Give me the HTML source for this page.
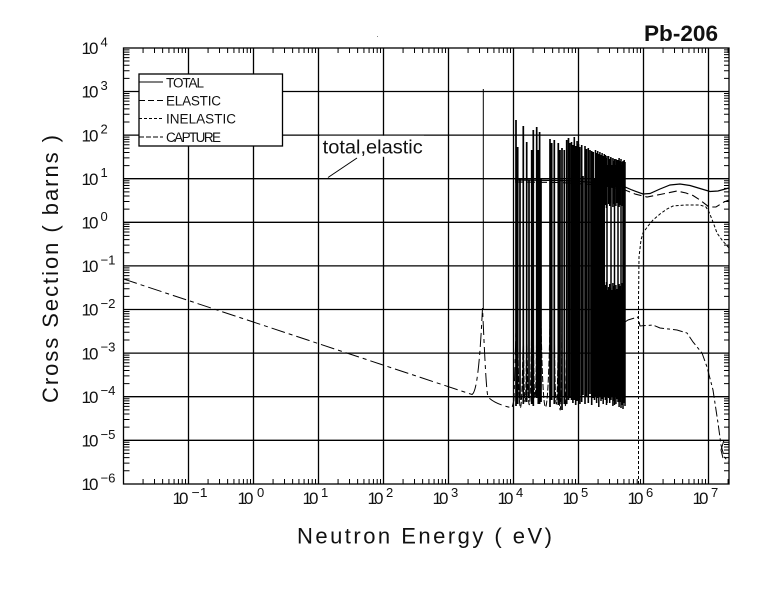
<!DOCTYPE html>
<html><head><meta charset="utf-8"><style>
html,body{margin:0;padding:0;background:#fff;}
svg{display:block;}
text{font-family:"Liberation Sans",sans-serif;fill:#111;}
</style></head><body>
<svg width="780" height="591" viewBox="0 0 780 591" xmlns="http://www.w3.org/2000/svg" xmlns:xlink="http://www.w3.org/1999/xlink">
<defs>
<clipPath id="pc"><rect x="123.5" y="48" width="605.5" height="436"/></clipPath>
<path id="xb" d="M19.57 0V-5M31.01 0V-5M39.13 0V-5M45.43 0V-5M50.58 0V-5M54.93 0V-5M58.70 0V-5M62.03 0V-5" stroke="#000" stroke-width="1" fill="none"/>
<path id="xt" d="M19.57 0V5M31.01 0V5M39.13 0V5M45.43 0V5M50.58 0V5M54.93 0V5M58.70 0V5M62.03 0V5" stroke="#000" stroke-width="1" fill="none"/>
<path id="yl" d="M0 -13.12H6M0 -20.80H6M0 -26.25H6M0 -30.48H6M0 -33.93H6M0 -36.85H6M0 -39.37H6M0 -41.60H6" stroke="#000" stroke-width="1" fill="none"/>
<path id="yr" d="M0 -13.12H-5M0 -20.80H-5M0 -26.25H-5M0 -30.48H-5M0 -33.93H-5M0 -36.85H-5M0 -39.37H-5M0 -41.60H-5" stroke="#000" stroke-width="1" fill="none"/>
</defs>
<rect width="780" height="591" fill="#fff"/>
<rect x="377" y="36" width="1" height="1" fill="#888"/>

<!-- grid -->
<g stroke="#000" stroke-width="1.3" fill="none">
<path d="M188.5 48V484M253.5 48V484M318.5 48V484M383.5 48V484M448.5 48V484M513.5 48V484M578.5 48V484M643.5 48V484M708.5 48V484"/>
<path d="M123.5 91.5H729M123.5 135.1H729M123.5 178.7H729M123.5 222.3H729M123.5 265.9H729M123.5 309.5H729M123.5 353.1H729M123.5 396.7H729M123.5 440.3H729"/>
<rect x="123.5" y="48" width="605.5" height="436"/>
</g>

<!-- minor ticks -->
<g clip-path="url(#pc)">
<use xlink:href="#xb" x="123.5" y="484"/><use xlink:href="#xb" x="188.5" y="484"/><use xlink:href="#xb" x="253.5" y="484"/><use xlink:href="#xb" x="318.5" y="484"/><use xlink:href="#xb" x="383.5" y="484"/><use xlink:href="#xb" x="448.5" y="484"/><use xlink:href="#xb" x="513.5" y="484"/><use xlink:href="#xb" x="578.5" y="484"/><use xlink:href="#xb" x="643.5" y="484"/><use xlink:href="#xb" x="708.5" y="484"/>
<use xlink:href="#xt" x="123.5" y="48"/><use xlink:href="#xt" x="188.5" y="48"/><use xlink:href="#xt" x="253.5" y="48"/><use xlink:href="#xt" x="318.5" y="48"/><use xlink:href="#xt" x="383.5" y="48"/><use xlink:href="#xt" x="448.5" y="48"/><use xlink:href="#xt" x="513.5" y="48"/><use xlink:href="#xt" x="578.5" y="48"/><use xlink:href="#xt" x="643.5" y="48"/><use xlink:href="#xt" x="708.5" y="48"/>
<use xlink:href="#yl" x="123.5" y="483.9"/><use xlink:href="#yl" x="123.5" y="440.3"/><use xlink:href="#yl" x="123.5" y="396.7"/><use xlink:href="#yl" x="123.5" y="353.1"/><use xlink:href="#yl" x="123.5" y="309.5"/><use xlink:href="#yl" x="123.5" y="265.9"/><use xlink:href="#yl" x="123.5" y="222.3"/><use xlink:href="#yl" x="123.5" y="178.7"/><use xlink:href="#yl" x="123.5" y="135.1"/><use xlink:href="#yl" x="123.5" y="91.5"/>
<use xlink:href="#yr" x="729" y="483.9"/><use xlink:href="#yr" x="729" y="440.3"/><use xlink:href="#yr" x="729" y="396.7"/><use xlink:href="#yr" x="729" y="353.1"/><use xlink:href="#yr" x="729" y="309.5"/><use xlink:href="#yr" x="729" y="265.9"/><use xlink:href="#yr" x="729" y="222.3"/><use xlink:href="#yr" x="729" y="178.7"/><use xlink:href="#yr" x="729" y="135.1"/><use xlink:href="#yr" x="729" y="91.5"/>
</g>

<!-- curves -->
<g clip-path="url(#pc)" fill="none" stroke="#000">
<!-- capture low energy -->
<path d="M123.5 279L472 394.5C477 392 480 360 482.5 308C484 340 486 390 488 397C495 404 505 406 512 408L514 400L516 330" stroke-width="1" stroke-dasharray="14,4,4,4"/>
<!-- 3.36 keV spike -->
<path d="M483.3 89V310" stroke-width="1"/>
<!-- sparse resonances -->
<path stroke-width="1.7" d="M516 120V406M517.7 147V404M520 178V400M523.3 126V404M526.7 142V402M529 180V398M531.7 150V404M533.3 130V406M536.7 127V398M538.3 150V404M539.6 132V404M541 178V402M550 139V407M551.7 143V400M554.3 140V404M558.3 143V405M560 150V402M562 148V410M564.3 150V404M566.7 140V404M568.5 138V400M570 143V398"/>
<!-- dense resonances 571-595 -->
<path stroke-width="1.6" d="M571.5 142V400M572.9 145V403M574.3 137V398M575.7 146V405M577.1 141V401M578.5 144V399M579.9 147V404M581.7 145V402M583 176V395M585 146V404M586.5 149V396M588.3 148V403M590 150V394M591.7 151V405M593.3 152V398M594.5 178V400"/>
<rect x="571" y="265" width="9.5" height="135" fill="#000" stroke="none"/>
<!-- dense resonances 595-625 -->
<path stroke-width="1.5" d="M595.5 150V396M596.6 153V403M597.7 151V398M598.8 154V407M599.9 152V395M601 155V401M602.1 153V399M603.2 156V404M604.3 154V397M607 156V403M611 158V400M614.5 159V405M618 160V402M621 159V408M623 161V409M624.2 160V403M625 162V406"/>
<path stroke-width="1.5" d="M605.4 155V205M606.5 158V208M608.6 156V204M609.7 159V206M610.8 157V203M612.9 158V207M614 161V204M615.9 159V206M617 160V203M619.1 158V207M620.2 161V205M622.3 162V206M605.4 285V400M606.5 282V405M608.6 287V398M609.7 284V403M610.8 288V399M612.9 283V406M614 286V401M615.9 285V404M617 289V399M619.1 284V407M620.2 286V402M622.3 283V405"/>
<rect x="595" y="290" width="30" height="106" fill="#000" stroke="none"/>
<rect x="595" y="165" width="30" height="22" fill="#000" stroke="none"/>
<!-- capture valleys -->
<path stroke-width="1" stroke-dasharray="6,2" d="M517.7 320C518.7 437 522.1 437 523.3 320M523.3 320C524.1 429 526 429 526.7 320M526.7 320C528 433 530.5 433 531.7 320M533.3 320C534 424 536 424 536.7 320M541 320C543 436 548 436 550 320M554.3 320C555.1 432 557.5 432 558.3 320M558.3 320C559 440 561.3 440 562 320M564.3 320C565 435 566 435 566.7 320"/>
<!-- total -->
<path stroke-width="1.2" d="M515 180L560 180.5L575 181L600 183L625 187L632 190L643 194L650 193.5L660 189L670 185L680 184L690 185.5L700 188.5L710 191.5L718 191L729 188"/>
<!-- elastic -->
<path stroke-width="1.1" stroke-dasharray="8,4" d="M515 182L560 182.5L600 185L625 190L635 194L647 197L660 194.5L677 191L686 193L693 195.5L700 200L709 207L716 207L724 202L729 200"/>
<!-- inelastic -->
<path stroke-width="1" stroke-dasharray="3,2" d="M638.5 484L638.5 300L639 257L641 240L643 233L648 226L653 220L660 214L667 209L673 206L685 205L700 205L706 207L709 212L713 222L717 233L722 240L729 248"/>
<!-- capture high energy -->
<path stroke-width="1" stroke-dasharray="10,3,3,3" d="M625 322L628 320L638 317L640 326L653 325L660 328L677 330L687 333L693 342L702 353L707 367L713 390L718 423L721 445L724 456L728 462"/>
<path stroke-width="1" d="M724 440L721 450L723 458"/>
</g>

<!-- legend -->
<rect x="139" y="74" width="143.5" height="72" fill="#fff" stroke="#000" stroke-width="1.3"/>
<g stroke="#000" stroke-width="1.1" fill="none">
<path d="M139 82H163"/>
<path d="M139 100.5H163" stroke-dasharray="6,3"/>
<path d="M139 118.5H163" stroke-dasharray="3,2"/>
<path d="M139 137H163" stroke-dasharray="5,2"/>
</g>
<g font-size="13.5">
<text x="166" y="87.3" textLength="38" lengthAdjust="spacing">TOTAL</text>
<text x="166" y="105.6" textLength="55" lengthAdjust="spacing">ELASTIC</text>
<text x="166" y="123.6" textLength="70" lengthAdjust="spacing">INELASTIC</text>
<text x="166" y="142" textLength="55" lengthAdjust="spacing">CAPTURE</text>
</g>

<!-- annotation -->
<rect x="320" y="135.8" width="104" height="21" fill="#fff"/>
<text x="322.7" y="153.3" font-size="19" textLength="100" lengthAdjust="spacingAndGlyphs">total,elastic</text>
<path d="M328 177.5L357 158" stroke="#000" stroke-width="1" fill="none"/>

<!-- title -->
<text x="644" y="41" font-size="22" font-weight="bold" textLength="74" lengthAdjust="spacingAndGlyphs">Pb-206</text>

<!-- y tick labels -->
<g font-size="17">
<text x="81.5" y="54.2" textLength="17" lengthAdjust="spacing">10</text>
<text x="81.5" y="97.7" textLength="17" lengthAdjust="spacing">10</text>
<text x="81.5" y="141.3" textLength="17" lengthAdjust="spacing">10</text>
<text x="81.5" y="184.9" textLength="17" lengthAdjust="spacing">10</text>
<text x="81.5" y="228.5" textLength="17" lengthAdjust="spacing">10</text>
<text x="81.5" y="272.1" textLength="17" lengthAdjust="spacing">10</text>
<text x="81.5" y="315.7" textLength="17" lengthAdjust="spacing">10</text>
<text x="81.5" y="359.3" textLength="17" lengthAdjust="spacing">10</text>
<text x="81.5" y="402.9" textLength="17" lengthAdjust="spacing">10</text>
<text x="81.5" y="446.5" textLength="17" lengthAdjust="spacing">10</text>
<text x="81.5" y="490.1" textLength="17" lengthAdjust="spacing">10</text>
</g>
<g font-size="13">
<text x="100.5" y="46.5">4</text>
<text x="100.5" y="90">3</text>
<text x="100.5" y="133.6">2</text>
<text x="100.5" y="177.2">1</text>
<text x="100.5" y="220.8">0</text>
<text x="100.5" y="264.4" textLength="15" lengthAdjust="spacingAndGlyphs">−1</text>
<text x="100.5" y="308" textLength="15" lengthAdjust="spacingAndGlyphs">−2</text>
<text x="100.5" y="351.6" textLength="15" lengthAdjust="spacingAndGlyphs">−3</text>
<text x="100.5" y="395.2" textLength="15" lengthAdjust="spacingAndGlyphs">−4</text>
<text x="100.5" y="438.8" textLength="15" lengthAdjust="spacingAndGlyphs">−5</text>
<text x="100.5" y="482.4" textLength="15" lengthAdjust="spacingAndGlyphs">−6</text>
</g>

<!-- x tick labels -->
<g font-size="17">
<text x="172.5" y="503.8" textLength="16" lengthAdjust="spacing">10</text>
<text x="237.5" y="503.8" textLength="16" lengthAdjust="spacing">10</text>
<text x="302.5" y="503.8" textLength="16" lengthAdjust="spacing">10</text>
<text x="367.5" y="503.8" textLength="16" lengthAdjust="spacing">10</text>
<text x="432.5" y="503.8" textLength="16" lengthAdjust="spacing">10</text>
<text x="497.5" y="503.8" textLength="16" lengthAdjust="spacing">10</text>
<text x="562.5" y="503.8" textLength="16" lengthAdjust="spacing">10</text>
<text x="627.5" y="503.8" textLength="16" lengthAdjust="spacing">10</text>
<text x="692.5" y="503.8" textLength="16" lengthAdjust="spacing">10</text>
</g>
<g font-size="13">
<text x="191.5" y="497" textLength="16" lengthAdjust="spacingAndGlyphs">−1</text>
<text x="257" y="497">0</text>
<text x="321" y="497">1</text>
<text x="386" y="497">2</text>
<text x="451" y="497">3</text>
<text x="516" y="497">4</text>
<text x="581" y="497">5</text>
<text x="646" y="497">6</text>
<text x="711" y="497">7</text>
</g>

<!-- axis titles -->
<text x="297" y="543.3" font-size="22" textLength="255" lengthAdjust="spacing">Neutron Energy ( eV)</text>
<text transform="translate(58,403) rotate(-90)" font-size="22" textLength="268" lengthAdjust="spacing">Cross Section ( barns )</text>
</svg>
</body></html>
